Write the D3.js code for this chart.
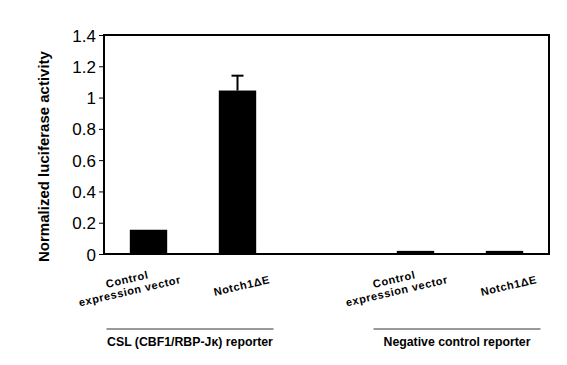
<!DOCTYPE html>
<html>
<head>
<meta charset="utf-8">
<script src="https://cdn.jsdelivr.net/npm/d3@7.9.0/dist/d3.min.js"></script>
<style>
  body { margin: 0; background: #fff; }
  text { font-family: Arial, "Liberation Sans", sans-serif; }
</style>
</head>
<body>
<svg id="chart" width="567" height="365"></svg>
<script>
// ========== Data ==========
const slots = ['csl-ctrl', 'csl-notch', 'gap', 'neg-ctrl', 'neg-notch'];
const categories = ['csl-ctrl', 'csl-notch', 'neg-ctrl', 'neg-notch'];
const values = [0.155, 1.045, 0.02, 0.02];
const errors = [0, 0.095, 0, 0];
const tickLabels = [0, 0.2, 0.4, 0.6, 0.8, 1, 1.2, 1.4];
const barLabels = [['Control', 'expression vector'], ['Notch1\u0394E'],
                   ['Control', 'expression vector'], ['Notch1\u0394E']];
const groupLabels = ['CSL (CBF1/RBP-J\u03ba) reporter', 'Negative control reporter'];
const groupMembers = [['csl-ctrl', 'csl-notch'], ['neg-ctrl', 'neg-notch']];
const yTitle = 'Normalized luciferase activity';

// ========== Layout ==========
const plotLeft = 104, plotRight = 549, plotTop = 35, plotBottom = 254;
const svg = d3.select('#chart');

const x = d3.scaleBand().domain(slots).range([plotLeft, plotRight])
  .paddingInner(0.58).paddingOuter(0.29);
const y = d3.scaleLinear().domain([0, 1.4]).range([plotBottom, plotTop]);
const mid = (c) => x(c) + x.bandwidth() / 2;

// === y axis ===
const yAxis = svg.append('g')
  .attr('transform', `translate(${plotLeft},0)`)
  .call(d3.axisLeft(y).tickValues(tickLabels).tickSize(5).tickPadding(3)
    .tickFormat(d3.format('')));
yAxis.select('.domain').remove();
yAxis.attr('font-size', 17).attr('font-family', 'Arial, "Liberation Sans", sans-serif');
yAxis.selectAll('line').attr('stroke', '#000').attr('stroke-width', 1);
yAxis.selectAll('text').attr('fill', '#000').attr('dy', '0.36em');

// === bars ===
categories.forEach((c, i) => {
  svg.append('rect')
    .attr('x', x(c))
    .attr('y', y(values[i]))
    .attr('width', x.bandwidth())
    .attr('height', y(0) - y(values[i]))
    .attr('fill', '#000');
  if (errors[i] > 0) {
    const cx = mid(c);
    svg.append('line')
      .attr('x1', cx).attr('x2', cx)
      .attr('y1', y(values[i])).attr('y2', y(values[i] + errors[i]))
      .attr('stroke', '#000').attr('stroke-width', 2);
    svg.append('line')
      .attr('x1', cx - 6).attr('x2', cx + 6)
      .attr('y1', y(values[i] + errors[i])).attr('y2', y(values[i] + errors[i]))
      .attr('stroke', '#000').attr('stroke-width', 2);
  }
});

// === frame ===
svg.append('rect')
  .attr('x', plotLeft).attr('y', plotTop)
  .attr('width', plotRight - plotLeft).attr('height', plotBottom - plotTop)
  .attr('fill', 'none').attr('stroke', '#000').attr('stroke-width', 2);

// === rotated category labels ===
categories.forEach((c, i) => {
  const g = svg.append('g')
    .attr('transform', `translate(${mid(c) + 33},${plotBottom + 29}) rotate(-13)`);
  const lines = barLabels[i];
  const texts = lines.map((t, k) => g.append('text')
    .attr('y', (k - lines.length + 1) * 12)
    .attr('font-size', 11)
    .attr('font-weight', 'bold')
    .attr('letter-spacing', 0.6)
    .attr('text-anchor', 'middle')
    .text(t));
  const w = d3.max(texts, (t) => t.node().getComputedTextLength());
  texts.forEach((t) => t.attr('x', -w / 2));
});

// === group lines & labels ===
groupMembers.forEach((m, i) => {
  const gc = (mid(m[0]) + mid(m[1])) / 2 - 3;
  svg.append('line')
    .attr('x1', gc - 83.5).attr('x2', gc + 83.5)
    .attr('y1', 329).attr('y2', 329)
    .attr('stroke', '#777').attr('stroke-width', 1.5);
  svg.append('text')
    .attr('x', gc).attr('y', 346)
    .attr('text-anchor', 'middle')
    .attr('font-size', 12.3)
    .attr('font-weight', 'bold')
    .text(groupLabels[i]);
});

// === y title ===
svg.append('text')
  .attr('transform', `translate(49,${(plotTop + plotBottom) / 2 + 12}) rotate(-90)`)
  .attr('text-anchor', 'middle')
  .attr('font-size', 15)
  .attr('font-weight', 'bold')
  .text(yTitle);
</script>
</body>
</html>
